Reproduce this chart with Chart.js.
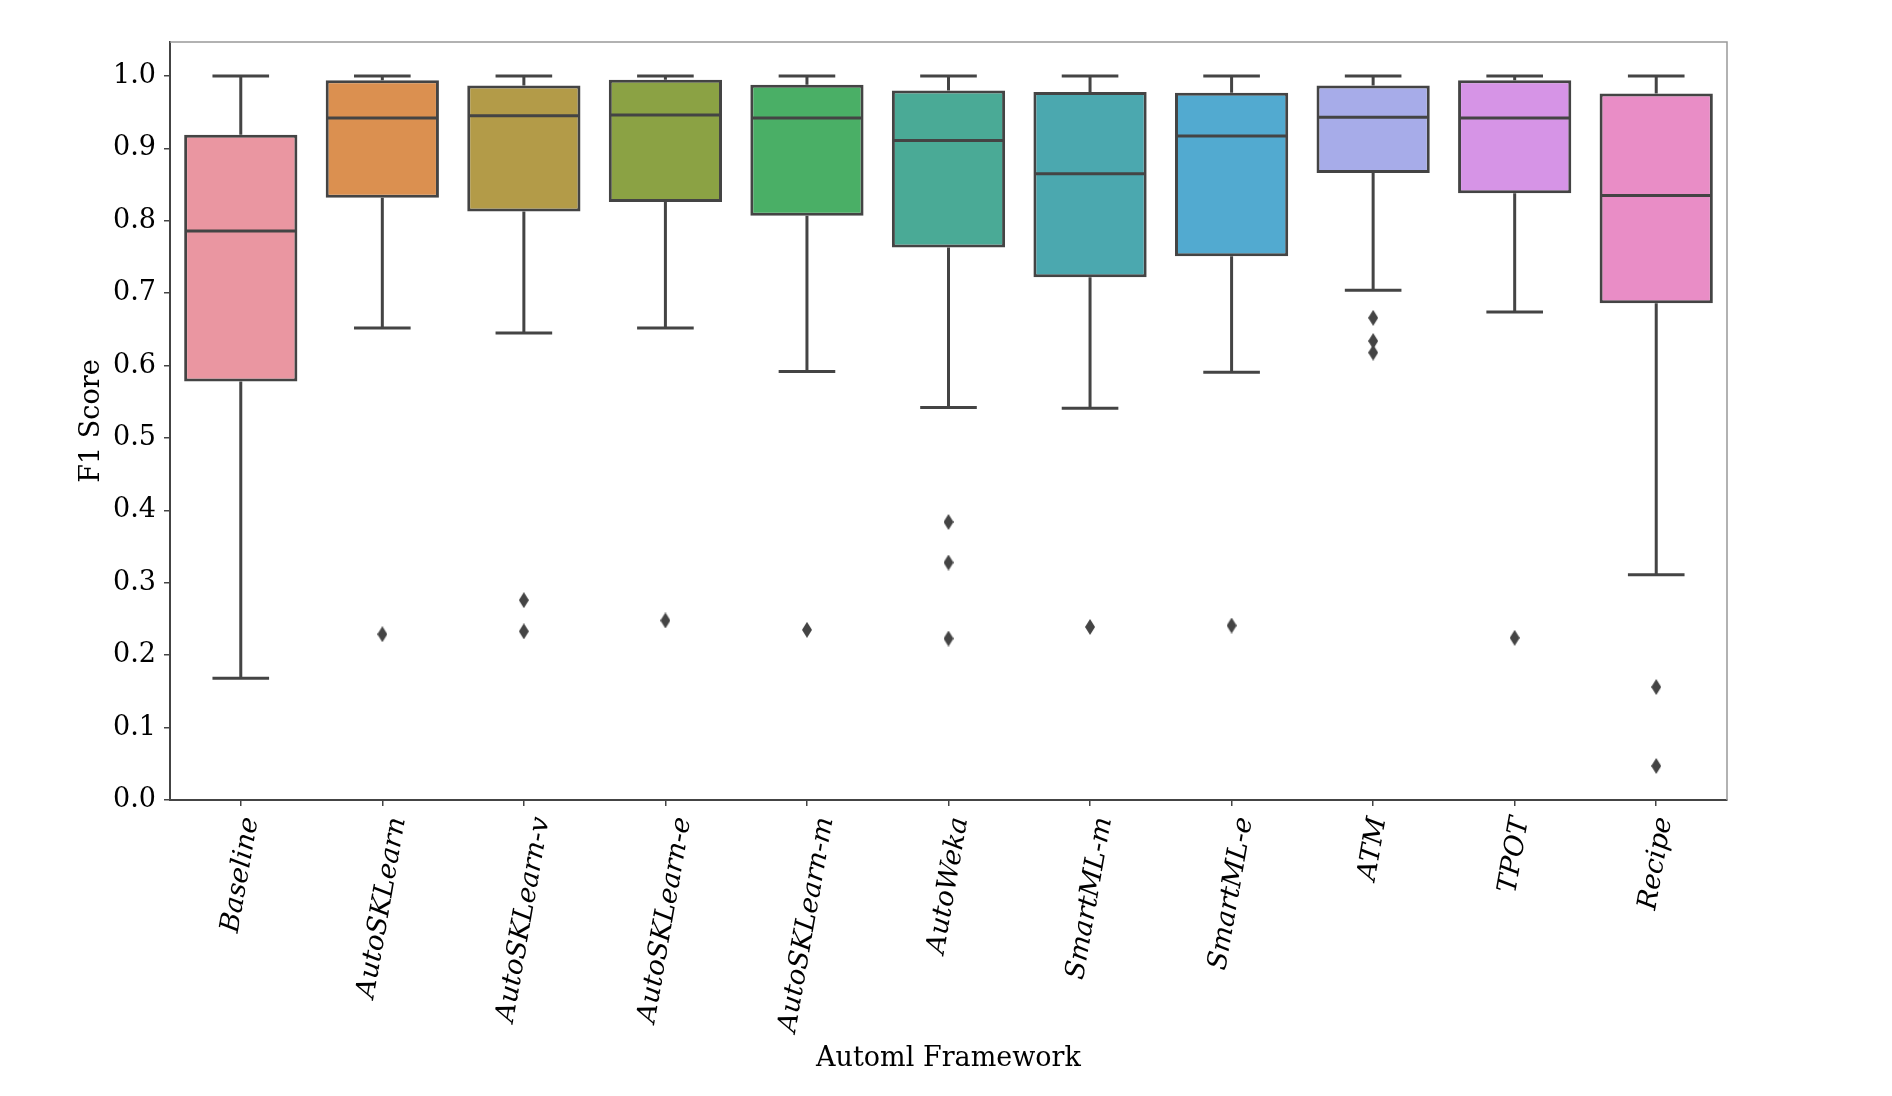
<!DOCTYPE html>
<html>
<head>
<meta charset="utf-8">
<title>F1 Score por framework AutoML</title>
<script src="https://cdn.jsdelivr.net/npm/chart.js@4.4.1/dist/chart.umd.min.js"></script>
<style>
  html, body { margin: 0; padding: 0; background: #fff; }
  #wrap { width: 1892px; height: 1096px; position: relative; }
</style>
</head>
<body>
<div id="wrap"><canvas id="boxChart"></canvas></div>
<script>
// Datos
const frameworks = ['Baseline', 'AutoSKLearn', 'AutoSKLearn-v', 'AutoSKLearn-e', 'AutoSKLearn-m',
    'AutoWeka', 'SmartML-m', 'SmartML-e', 'ATM', 'TPOT', 'Recipe'];
const whiskerLow = [0.168, 0.652, 0.645, 0.652, 0.592, 0.542, 0.541, 0.591, 0.704, 0.674, 0.311];
const q1 = [0.578, 0.832, 0.813, 0.826, 0.807, 0.763, 0.722, 0.751, 0.866, 0.838, 0.686];
const medians = [0.786, 0.942, 0.945, 0.946, 0.942, 0.911, 0.865, 0.917, 0.943, 0.942, 0.835];
const q3 = [0.919, 0.994, 0.987, 0.995, 0.988, 0.980, 0.978, 0.977, 0.987, 0.994, 0.976];
const whiskerHigh = [1.0, 1.0, 1.0, 1.0, 1.0, 1.0, 1.0, 1.0, 1.0, 1.0, 1.0];
const outlierLabels = ['AutoSKLearn', 'AutoSKLearn-v', 'AutoSKLearn-v', 'AutoSKLearn-e', 'AutoSKLearn-m',
    'AutoWeka', 'AutoWeka', 'AutoWeka', 'SmartML-m', 'SmartML-e', 'ATM', 'ATM', 'ATM', 'TPOT', 'Recipe', 'Recipe'];
const outlierValues = [0.229, 0.276, 0.233, 0.248, 0.235, 0.384, 0.328, 0.223, 0.239, 0.241,
    0.666, 0.634, 0.618, 0.224, 0.156, 0.047];
const yTicks = [0, 0.1, 0.2, 0.3, 0.4, 0.5, 0.6, 0.7, 0.8, 0.9, 1.0];

const boxColors = ['#ea96a1', '#db9050', '#b39b48', '#8ba244', '#4aaf66', '#4aaa96',
    '#4ba8af', '#52aad0', '#a7ace9', '#d694e6', '#e98dc6'];
const lineColor = '#444444';
const fontFamily = '"DejaVu Serif", serif';

// marcador diamante fino (como 'd' de matplotlib)
const diamond = document.createElement('canvas');
diamond.width = 10;
diamond.height = 16;
const dctx = diamond.getContext('2d');
dctx.fillStyle = lineColor;
dctx.beginPath();
dctx.moveTo(5, 0);
dctx.lineTo(10, 8);
dctx.lineTo(5, 16);
dctx.lineTo(0, 8);
dctx.closePath();
dctx.fill();

// bigotes y medianas
const boxParts = {
    id: 'boxParts',
    afterDatasetsDraw(chart) {
        const ctx = chart.ctx;
        const y = chart.scales.y;
        const bars = chart.getDatasetMeta(0).data;
        ctx.save();
        ctx.strokeStyle = lineColor;
        ctx.lineWidth = 3;
        bars.forEach((bar, i) => {
            const cx = bar.x;
            const half = bar.width / 2;
            const cap = bar.width / 4;
            const yLo = y.getPixelForValue(whiskerLow[i]);
            const yHi = y.getPixelForValue(whiskerHigh[i]);
            const yMed = y.getPixelForValue(medians[i]);
            ctx.beginPath();
            ctx.moveTo(cx, y.getPixelForValue(q1[i]));
            ctx.lineTo(cx, yLo);
            ctx.moveTo(cx - cap, yLo);
            ctx.lineTo(cx + cap, yLo);
            ctx.moveTo(cx, y.getPixelForValue(q3[i]));
            ctx.lineTo(cx, yHi);
            ctx.moveTo(cx - cap, yHi);
            ctx.lineTo(cx + cap, yHi);
            ctx.moveTo(cx - half + 1.5, yMed);
            ctx.lineTo(cx + half - 1.5, yMed);
            ctx.stroke();
        });
        ctx.restore();
    }
};

// marco superior/derecho, etiquetas rotadas y titulo del eje x
const frameAndLabels = {
    id: 'frameAndLabels',
    afterDraw(chart) {
        const ctx = chart.ctx;
        const area = chart.chartArea;
        const x = chart.scales.x;
        ctx.save();
        ctx.strokeStyle = '#999999';
        ctx.lineWidth = 1.5;
        ctx.beginPath();
        ctx.moveTo(area.left, area.top);
        ctx.lineTo(area.right, area.top);
        ctx.lineTo(area.right, area.bottom);
        ctx.stroke();

        ctx.fillStyle = '#000';
        ctx.font = 'italic 27px ' + fontFamily;
        ctx.textAlign = 'center';
        ctx.textBaseline = 'middle';
        const ang = 80 * Math.PI / 180;
        const top = area.bottom + 15;
        frameworks.forEach((label, i) => {
            const w = ctx.measureText(label).width;
            const h = 30;
            const boxH = w * Math.sin(ang) + h * Math.cos(ang);
            ctx.save();
            ctx.translate(x.getPixelForValue(i), top + boxH / 2);
            ctx.rotate(-ang);
            ctx.fillText(label, 0, 0);
            ctx.restore();
        });

        ctx.font = '27px ' + fontFamily;
        ctx.textBaseline = 'alphabetic';
        ctx.fillText('Automl Framework', (area.left + area.right) / 2, 1066);
        ctx.restore();
    }
};

const ctx = document.getElementById('boxChart').getContext('2d');
new Chart(ctx, {
    type: 'bar',
    data: {
        labels: frameworks,
        datasets: [{
            label: 'Caja',
            data: frameworks.map((f, i) => [q1[i], q3[i]]),
            backgroundColor: boxColors,
            borderColor: lineColor,
            borderWidth: 3,
            borderSkipped: false,
            categoryPercentage: 0.8,
            barPercentage: 1.0
        }, {
            type: 'scatter',
            label: 'Atipicos',
            data: outlierLabels.map((f, i) => ({ x: f, y: outlierValues[i] })),
            pointStyle: diamond,
            pointRadius: 8,
            backgroundColor: lineColor,
            borderColor: lineColor
        }]
    },
    options: {
        responsive: true,
        maintainAspectRatio: false,
        animation: false,
        layout: { padding: { left: 72, top: 42, right: 165, bottom: 0 } },
        plugins: {
            legend: { display: false },
            tooltip: { enabled: false }
        },
        scales: {
            x: {
                afterFit: (scale) => { scale.height = 296; },
                grid: { display: true, offset: false, drawOnChartArea: false, drawTicks: true, tickLength: 6, color: lineColor, lineWidth: 1.5 },
                border: { display: true, color: lineColor, width: 2 },
                ticks: { display: false }
            },
            y: {
                min: 0,
                max: 1.047,
                afterFit: (scale) => { scale.width = 98; },
                afterBuildTicks: (scale) => { scale.ticks = yTicks.map(v => ({ value: v })); },
                grid: { display: true, drawOnChartArea: false, drawTicks: true, tickLength: 6, color: lineColor, lineWidth: 1.5 },
                border: { display: true, color: lineColor, width: 2 },
                ticks: {
                    color: '#000',
                    padding: 8,
                    font: { family: fontFamily, size: 27 },
                    callback: (v) => Number(v).toFixed(1)
                },
                title: {
                    display: true,
                    text: 'F1 Score',
                    color: '#000',
                    font: { family: fontFamily, size: 27 }
                }
            }
        }
    },
    plugins: [boxParts, frameAndLabels]
});
</script>
</body>
</html>
